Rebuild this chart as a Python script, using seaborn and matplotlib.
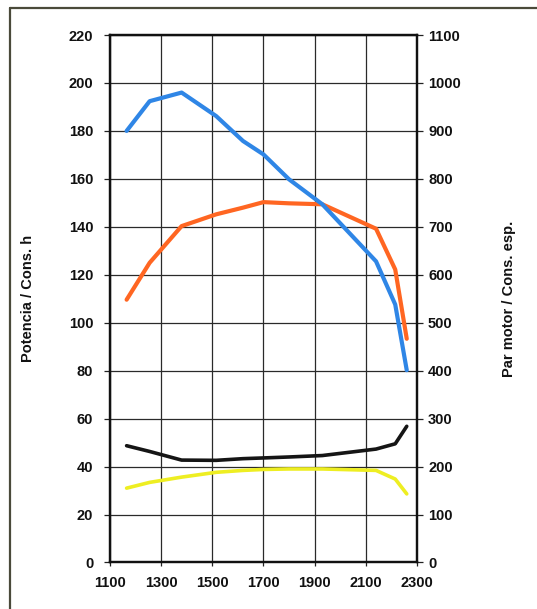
import matplotlib
matplotlib.use("Agg")
import matplotlib.pyplot as plt
from matplotlib.lines import Line2D
import pandas as pd
import seaborn as sns

# Engine speed (rpm) at which each curve was sampled
rpm = [1165, 1255, 1380, 1515, 1620, 1700, 1800, 1930, 2140, 2215, 2260]

# Left axis: power (kW) and hourly consumption
potencia = [109.6, 125.0, 140.3, 145.2, 148.0, 150.3, 149.8, 149.4, 139.2, 122.2, 93.3]
cons_h = [48.7, 46.3, 42.7, 42.6, 43.3, 43.6, 44.0, 44.6, 47.3, 49.5, 56.8]

# Right axis: torque (Nm) and specific consumption (g/kWh)
par_motor = [900, 962, 980, 931, 879, 851, 799, 747, 628, 538, 401]
cons_esp = [155, 167, 178, 188, 192, 194, 195, 195, 192, 174, 143]

x_ticks = [1100, 1300, 1500, 1700, 1900, 2100, 2300]
left_ticks = list(range(0, 221, 20))
right_ticks = list(range(0, 1101, 100))

df = pd.DataFrame({
    "rpm": rpm,
    "potencia": potencia,
    "cons_h": cons_h,
    "par_motor": par_motor,
    "cons_esp": cons_esp,
})

sns.set_theme(style="white")
plt.rcParams["font.family"] = ["Liberation Sans", "DejaVu Sans"]

fig = plt.figure(figsize=(5.37, 6.09), dpi=100)
ax = fig.add_axes([0.2048, 0.0764, 0.5717, 0.8661])
ax2 = ax.twinx()

grid_kw = dict(color="#2a2a2a", linewidth=0.9, zorder=0)
for xv in x_ticks:
    ax.axvline(xv, **grid_kw)
for yv in left_ticks:
    ax.axhline(yv, **grid_kw)

sns.lineplot(data=df, x="rpm", y="potencia", ax=ax, color="#ff6622",
             linewidth=3.0, zorder=3)
sns.lineplot(data=df, x="rpm", y="cons_h", ax=ax, color="#151515",
             linewidth=2.6, zorder=3)
sns.lineplot(data=df, x="rpm", y="par_motor", ax=ax2, color="#2f86e6",
             linewidth=3.0, zorder=3)
sns.lineplot(data=df, x="rpm", y="cons_esp", ax=ax2, color="#eeee22",
             linewidth=2.6, zorder=3)

ax.set_xlim(1100, 2300)
ax.set_ylim(0, 220)
ax2.set_ylim(0, 1100)
ax.set_xticks(x_ticks)
ax.set_yticks(left_ticks)
ax2.set_yticks(right_ticks)

tick_font = dict(fontsize=10.5, fontweight="bold", color="#111111")
ax.set_xticklabels([str(v) for v in x_ticks], **tick_font)
ax.set_yticklabels([str(v) for v in left_ticks], **tick_font)
ax2.set_yticklabels([str(v) for v in right_ticks], **tick_font)

ax.tick_params(axis="y", direction="out", length=4, width=0.9, pad=8,
               color="#222222", left=True)
ax.tick_params(axis="x", direction="out", length=3, width=0.9, pad=7,
               color="#222222", bottom=True)
ax2.tick_params(axis="y", direction="out", length=4, width=0.9, pad=4,
                color="#222222", right=True)

for a in (ax, ax2):
    for sp in a.spines.values():
        sp.set_color("#111111")
        sp.set_linewidth(1.6)
    a.grid(False)

ax.set_xlabel("")
ax.set_ylabel("")
ax2.set_ylabel("")
fig.text(0.052, 0.51, "Potencia / Cons. h", rotation=90, ha="center",
         va="center", fontsize=10.5, fontweight="bold", color="#111111")
fig.text(0.948, 0.51, "Par motor / Cons. esp.", rotation=90, ha="center",
         va="center", fontsize=10.5, fontweight="bold", color="#111111")

# Outer frame (left and top edges)
frame_kw = dict(color="#4a4a3a", linewidth=1.6, transform=fig.transFigure)
fig.add_artist(Line2D([0.019, 0.019], [0.0, 0.987], **frame_kw))
fig.add_artist(Line2D([0.019, 1.0], [0.987, 0.987], **frame_kw))

fig.savefig("out.png", dpi=100)
